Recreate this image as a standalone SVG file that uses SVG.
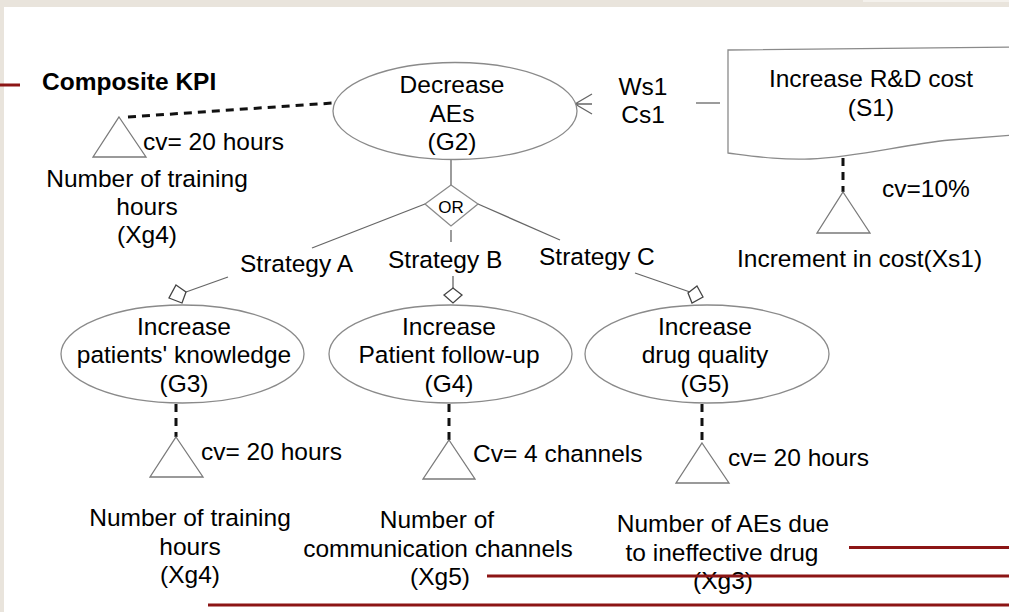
<svg xmlns="http://www.w3.org/2000/svg" width="1009" height="612" viewBox="0 0 1009 612">
  <defs>
    <style>
      text { font-family: "Liberation Sans", Arial, sans-serif; font-size: 24.5px; fill: #000; }
      .c { text-anchor: middle; }
      .bold { font-weight: bold; }
      .goal { fill: #fff; stroke: #8a8a8a; stroke-width: 1.3; }
      .kpi { fill: #fff; stroke: #7a7a7a; stroke-width: 1.3; }
      .link { fill: none; stroke: #666; stroke-width: 1.3; }
      .meas { fill: none; stroke: #111; stroke-width: 3; stroke-dasharray: 8 6; }
      .small { fill: #fff; stroke: #444; stroke-width: 1.3; }
      .rule { stroke: #8c1515; stroke-width: 3; }
    </style>
  </defs>

  <!-- slide frame -->
  <rect x="0" y="0" width="1009" height="612" fill="#e9e4dc"/>
  <rect x="863" y="0" width="146" height="2" fill="#f4f1ec"/>
  <rect x="4" y="7" width="1005" height="605" fill="#ffffff"/>

  <!-- connectors -->
  <g id="connectors">
    <line class="meas" x1="128" y1="117" x2="333" y2="103"/>
    <line class="link" x1="451" y1="160" x2="451" y2="185"/>
    <line class="link" x1="451" y1="230" x2="451" y2="242"/>
    <line class="link" x1="425" y1="204" x2="312" y2="248"/>
    <line class="link" x1="478" y1="204" x2="560" y2="240"/>
    <line class="link" x1="228" y1="277" x2="186" y2="292"/>
    <line class="link" x1="453" y1="276" x2="453" y2="288"/>
    <line class="link" x1="635" y1="273" x2="690" y2="292"/>
    <line class="link" x1="696" y1="103" x2="720" y2="103"/>
    <path class="link" d="M592,94 L575,104 L592,114 M575,104 L592,104" stroke="#333"/>
    <line class="meas" x1="843" y1="158" x2="843" y2="192"/>
    <line class="meas" x1="176" y1="404" x2="176" y2="437"/>
    <line class="meas" x1="449" y1="404" x2="449" y2="440"/>
    <line class="meas" x1="702" y1="404" x2="702" y2="443"/>
    <!-- contribution decorations -->
    <polygon class="small" points="176,285 186,292 182,303 169,298"/>
    <polygon class="small" points="453,288 462,295 453,303 444,295"/>
    <polygon class="small" points="697,286 703,297 692,303 688,293"/>
    <text x="643" y="95" class="c">Ws1</text>
    <text x="643" y="123" class="c">Cs1</text>
    <text x="240" y="272">Strategy A</text>
    <text x="388" y="268">Strategy B</text>
    <text x="539" y="265">Strategy C</text>
  </g>

  <!-- composite KPI -->
  <g id="kpi-composite">
    <text x="42" y="90" class="bold">Composite KPI</text>
    <polygon class="kpi" points="119,117 146,157 93,157"/>
    <text x="143" y="150">cv= 20 hours</text>
    <text x="147" y="187" class="c">Number of training</text>
    <text x="147" y="215" class="c">hours</text>
    <text x="147" y="243" class="c">(Xg4)</text>
  </g>

  <g id="G2">
    <ellipse class="goal" cx="455" cy="111" rx="122" ry="48.5"/>
    <text x="452" y="93" class="c">Decrease</text>
    <text x="452" y="122" class="c">AEs</text>
    <text x="452" y="150" class="c">(G2)</text>
  </g>

  <g id="OR">
    <polygon class="goal" points="451,185 478,204 451,226 425,204" stroke="#777"/>
    <text x="451" y="213" class="c" style="font-size:17px">OR</text>
  </g>

  <g id="S1">
    <path class="goal" d="M728,50 L1015,47 L1015,135 L950,140 C900,145 860,157 810,159 C780,160 760,157 728,153 Z"/>
    <text x="871" y="87" class="c">Increase R&amp;D cost</text>
    <text x="871" y="116" class="c">(S1)</text>
  </g>

  <g id="Xs1">
    <polygon class="kpi" points="843,192 870,233 817,233"/>
    <text x="882" y="197">cv=10%</text>
    <text x="737" y="267">Increment in cost(Xs1)</text>
  </g>

  <g id="G3">
    <ellipse class="goal" cx="182.5" cy="354" rx="121.5" ry="49"/>
    <text x="184" y="335" class="c">Increase</text>
    <text x="184" y="363" class="c">patients' knowledge</text>
    <text x="184" y="392" class="c">(G3)</text>
  </g>

  <g id="G4">
    <ellipse class="goal" cx="450.5" cy="354" rx="121.5" ry="49"/>
    <text x="449" y="335" class="c">Increase</text>
    <text x="449" y="363" class="c">Patient follow-up</text>
    <text x="449" y="392" class="c">(G4)</text>
  </g>

  <g id="G5">
    <ellipse class="goal" cx="707" cy="354" rx="122" ry="49"/>
    <text x="705" y="335" class="c">Increase</text>
    <text x="705" y="363" class="c">drug quality</text>
    <text x="705" y="392" class="c">(G5)</text>
  </g>

  <g id="Xg4">
    <polygon class="kpi" points="176,437 203,477 150,477"/>
    <text x="201" y="460">cv= 20 hours</text>
    <text x="190" y="526" class="c">Number of training</text>
    <text x="190" y="555" class="c">hours</text>
    <text x="190" y="583" class="c">(Xg4)</text>
  </g>

  <g id="Xg5">
    <polygon class="kpi" points="449,440 475,479 423,479"/>
    <text x="473" y="462">Cv= 4 channels</text>
    <text x="437" y="528" class="c">Number of</text>
    <text x="438" y="557" class="c">communication channels</text>
    <text x="440" y="585" class="c">(Xg5)</text>
  </g>

  <g id="Xg3">
    <polygon class="kpi" points="702,443 729,483 676,483"/>
    <text x="728" y="466">cv= 20 hours</text>
    <text x="723" y="532" class="c">Number of AEs due</text>
    <text x="722" y="561" class="c">to ineffective drug</text>
    <text x="723" y="589" class="c">(Xg3)</text>
  </g>

  <!-- slide accent rules -->
  <g id="rules">
    <line class="rule" x1="0" y1="85" x2="20" y2="85"/>
    <line class="rule" x1="849" y1="547.5" x2="1009" y2="547.5"/>
    <line class="rule" x1="487" y1="576" x2="1009" y2="576"/>
    <line class="rule" x1="208" y1="605" x2="1009" y2="605"/>
  </g>
</svg>
